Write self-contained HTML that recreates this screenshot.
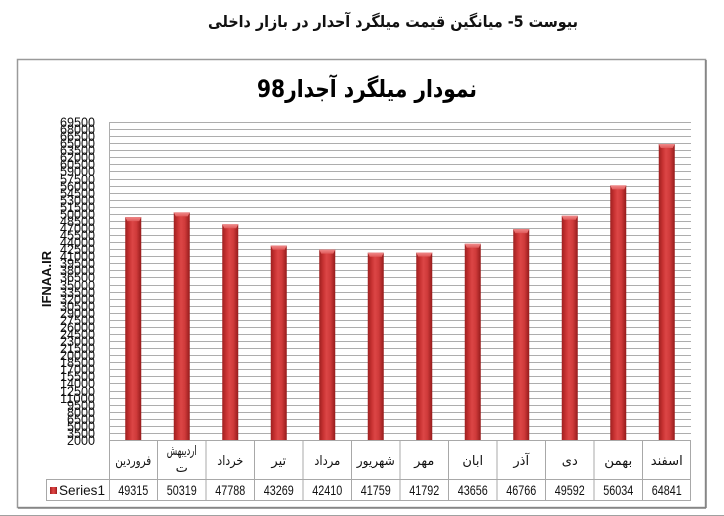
<!DOCTYPE html>
<html>
<head>
<meta charset="utf-8">
<style>
html,body{margin:0;padding:0;background:#fff;}
svg{display:block;}
</style>
</head>
<body>
<svg width="724" height="516" viewBox="0 0 724 516" xmlns="http://www.w3.org/2000/svg">
<defs>
<linearGradient id="bg" x1="0" y1="0" x2="1" y2="0">
<stop offset="0" stop-color="#9e2020"/>
<stop offset="0.25" stop-color="#c83232"/>
<stop offset="0.45" stop-color="#dc4646"/>
<stop offset="0.7" stop-color="#cf3a3a"/>
<stop offset="1" stop-color="#951b1b"/>
</linearGradient>
<linearGradient id="cap" x1="0" y1="0" x2="0" y2="1">
<stop offset="0" stop-color="#f08a8a"/>
<stop offset="1" stop-color="#e05a5a"/>
</linearGradient>
</defs>
<rect width="724" height="516" fill="#fff"/>

<!-- page title -->
<text x="393" y="27" text-anchor="middle" direction="rtl" font-family="'DejaVu Sans','Liberation Sans',sans-serif" font-weight="bold" font-size="16" fill="#111" textLength="370" lengthAdjust="spacingAndGlyphs">بیوست 5- میانگین قیمت میلگرد  آحدار در بازار داخلی</text>

<!-- frame -->
<rect x="17.5" y="59.5" width="688" height="448" fill="#fff" stroke="#9a9a9a" stroke-width="1.5"/>
<line x1="706" y1="60" x2="706" y2="508" stroke="#808080" stroke-width="1.5"/>
<line x1="18" y1="508" x2="706" y2="508" stroke="#808080" stroke-width="1.5"/>
<line x1="0" y1="515.5" x2="724" y2="515.5" stroke="#a0a0a0" stroke-width="1"/>

<!-- chart title -->
<text x="367" y="97" text-anchor="middle" direction="rtl" font-family="'DejaVu Sans','Liberation Sans',sans-serif" font-weight="bold" font-size="24" fill="#000" textLength="220" lengthAdjust="spacingAndGlyphs">نمودار میلگرد آجدار98</text>

<!-- watermark -->
<text transform="translate(51,279) rotate(-90)" text-anchor="middle" font-family="'Liberation Sans',sans-serif" font-weight="bold" font-size="13" fill="#111">IFNAA.IR</text>

<!-- gridlines -->
<g stroke="#adadad" stroke-width="1">
<line x1="109" y1="440.5" x2="691" y2="440.5"/>
<line x1="109" y1="433.5" x2="691" y2="433.5"/>
<line x1="109" y1="426.5" x2="691" y2="426.5"/>
<line x1="109" y1="419.5" x2="691" y2="419.5"/>
<line x1="109" y1="412.5" x2="691" y2="412.5"/>
<line x1="109" y1="405.5" x2="691" y2="405.5"/>
<line x1="109" y1="398.5" x2="691" y2="398.5"/>
<line x1="109" y1="391.5" x2="691" y2="391.5"/>
<line x1="109" y1="383.5" x2="691" y2="383.5"/>
<line x1="109" y1="376.5" x2="691" y2="376.5"/>
<line x1="109" y1="369.5" x2="691" y2="369.5"/>
<line x1="109" y1="362.5" x2="691" y2="362.5"/>
<line x1="109" y1="355.5" x2="691" y2="355.5"/>
<line x1="109" y1="348.5" x2="691" y2="348.5"/>
<line x1="109" y1="341.5" x2="691" y2="341.5"/>
<line x1="109" y1="334.5" x2="691" y2="334.5"/>
<line x1="109" y1="327.5" x2="691" y2="327.5"/>
<line x1="109" y1="320.5" x2="691" y2="320.5"/>
<line x1="109" y1="313.5" x2="691" y2="313.5"/>
<line x1="109" y1="306.5" x2="691" y2="306.5"/>
<line x1="109" y1="299.5" x2="691" y2="299.5"/>
<line x1="109" y1="292.5" x2="691" y2="292.5"/>
<line x1="109" y1="285.5" x2="691" y2="285.5"/>
<line x1="109" y1="277.5" x2="691" y2="277.5"/>
<line x1="109" y1="270.5" x2="691" y2="270.5"/>
<line x1="109" y1="263.5" x2="691" y2="263.5"/>
<line x1="109" y1="256.5" x2="691" y2="256.5"/>
<line x1="109" y1="249.5" x2="691" y2="249.5"/>
<line x1="109" y1="242.5" x2="691" y2="242.5"/>
<line x1="109" y1="235.5" x2="691" y2="235.5"/>
<line x1="109" y1="228.5" x2="691" y2="228.5"/>
<line x1="109" y1="221.5" x2="691" y2="221.5"/>
<line x1="109" y1="214.5" x2="691" y2="214.5"/>
<line x1="109" y1="207.5" x2="691" y2="207.5"/>
<line x1="109" y1="200.5" x2="691" y2="200.5"/>
<line x1="109" y1="193.5" x2="691" y2="193.5"/>
<line x1="109" y1="186.5" x2="691" y2="186.5"/>
<line x1="109" y1="179.5" x2="691" y2="179.5"/>
<line x1="109" y1="171.5" x2="691" y2="171.5"/>
<line x1="109" y1="164.5" x2="691" y2="164.5"/>
<line x1="109" y1="157.5" x2="691" y2="157.5"/>
<line x1="109" y1="150.5" x2="691" y2="150.5"/>
<line x1="109" y1="143.5" x2="691" y2="143.5"/>
<line x1="109" y1="136.5" x2="691" y2="136.5"/>
<line x1="109" y1="129.5" x2="691" y2="129.5"/>
<line x1="109" y1="122.5" x2="691" y2="122.5"/>
<line x1="109.5" y1="122" x2="109.5" y2="440"/>
</g>

<!-- y labels -->
<g font-family="'Liberation Sans',sans-serif" font-size="14" fill="#111" text-anchor="end">
<text x="95" y="445" textLength="28" lengthAdjust="spacingAndGlyphs">2000</text>
<text x="95" y="438" textLength="28" lengthAdjust="spacingAndGlyphs">3500</text>
<text x="95" y="431" textLength="28" lengthAdjust="spacingAndGlyphs">5000</text>
<text x="95" y="424" textLength="28" lengthAdjust="spacingAndGlyphs">6500</text>
<text x="95" y="417" textLength="28" lengthAdjust="spacingAndGlyphs">8000</text>
<text x="95" y="410" textLength="28" lengthAdjust="spacingAndGlyphs">9500</text>
<text x="95" y="403" textLength="35" lengthAdjust="spacingAndGlyphs">11000</text>
<text x="95" y="396" textLength="35" lengthAdjust="spacingAndGlyphs">12500</text>
<text x="95" y="388" textLength="35" lengthAdjust="spacingAndGlyphs">14000</text>
<text x="95" y="381" textLength="35" lengthAdjust="spacingAndGlyphs">15500</text>
<text x="95" y="374" textLength="35" lengthAdjust="spacingAndGlyphs">17000</text>
<text x="95" y="367" textLength="35" lengthAdjust="spacingAndGlyphs">18500</text>
<text x="95" y="360" textLength="35" lengthAdjust="spacingAndGlyphs">20000</text>
<text x="95" y="353" textLength="35" lengthAdjust="spacingAndGlyphs">21500</text>
<text x="95" y="346" textLength="35" lengthAdjust="spacingAndGlyphs">23000</text>
<text x="95" y="339" textLength="35" lengthAdjust="spacingAndGlyphs">24500</text>
<text x="95" y="332" textLength="35" lengthAdjust="spacingAndGlyphs">26000</text>
<text x="95" y="325" textLength="35" lengthAdjust="spacingAndGlyphs">27500</text>
<text x="95" y="318" textLength="35" lengthAdjust="spacingAndGlyphs">29000</text>
<text x="95" y="311" textLength="35" lengthAdjust="spacingAndGlyphs">30500</text>
<text x="95" y="304" textLength="35" lengthAdjust="spacingAndGlyphs">32000</text>
<text x="95" y="297" textLength="35" lengthAdjust="spacingAndGlyphs">33500</text>
<text x="95" y="290" textLength="35" lengthAdjust="spacingAndGlyphs">35000</text>
<text x="95" y="282" textLength="35" lengthAdjust="spacingAndGlyphs">36500</text>
<text x="95" y="275" textLength="35" lengthAdjust="spacingAndGlyphs">38000</text>
<text x="95" y="268" textLength="35" lengthAdjust="spacingAndGlyphs">39500</text>
<text x="95" y="261" textLength="35" lengthAdjust="spacingAndGlyphs">41000</text>
<text x="95" y="254" textLength="35" lengthAdjust="spacingAndGlyphs">42500</text>
<text x="95" y="247" textLength="35" lengthAdjust="spacingAndGlyphs">44000</text>
<text x="95" y="240" textLength="35" lengthAdjust="spacingAndGlyphs">45500</text>
<text x="95" y="233" textLength="35" lengthAdjust="spacingAndGlyphs">47000</text>
<text x="95" y="226" textLength="35" lengthAdjust="spacingAndGlyphs">48500</text>
<text x="95" y="219" textLength="35" lengthAdjust="spacingAndGlyphs">50000</text>
<text x="95" y="212" textLength="35" lengthAdjust="spacingAndGlyphs">51500</text>
<text x="95" y="205" textLength="35" lengthAdjust="spacingAndGlyphs">53000</text>
<text x="95" y="198" textLength="35" lengthAdjust="spacingAndGlyphs">54500</text>
<text x="95" y="191" textLength="35" lengthAdjust="spacingAndGlyphs">56000</text>
<text x="95" y="184" textLength="35" lengthAdjust="spacingAndGlyphs">57500</text>
<text x="95" y="176" textLength="35" lengthAdjust="spacingAndGlyphs">59000</text>
<text x="95" y="169" textLength="35" lengthAdjust="spacingAndGlyphs">60500</text>
<text x="95" y="162" textLength="35" lengthAdjust="spacingAndGlyphs">62000</text>
<text x="95" y="155" textLength="35" lengthAdjust="spacingAndGlyphs">63500</text>
<text x="95" y="148" textLength="35" lengthAdjust="spacingAndGlyphs">65000</text>
<text x="95" y="141" textLength="35" lengthAdjust="spacingAndGlyphs">66500</text>
<text x="95" y="134" textLength="35" lengthAdjust="spacingAndGlyphs">68000</text>
<text x="95" y="127" textLength="35" lengthAdjust="spacingAndGlyphs">69500</text>
</g>

<!-- bars -->
<g>
<rect x="125.25" y="217.1" width="16" height="222.9" fill="url(#bg)"/>
<path d="M125.25 217.1 H141.25 L139.25 221.1 H127.25 Z" fill="url(#cap)"/>
<rect x="173.75" y="212.4" width="16" height="227.6" fill="url(#bg)"/>
<path d="M173.75 212.4 H189.75 L187.75 216.4 H175.75 Z" fill="url(#cap)"/>
<rect x="222.25" y="224.3" width="16" height="215.7" fill="url(#bg)"/>
<path d="M222.25 224.3 H238.25 L236.25 228.3 H224.25 Z" fill="url(#cap)"/>
<rect x="270.75" y="245.6" width="16" height="194.4" fill="url(#bg)"/>
<path d="M270.75 245.6 H286.75 L284.75 249.6 H272.75 Z" fill="url(#cap)"/>
<rect x="319.25" y="249.6" width="16" height="190.4" fill="url(#bg)"/>
<path d="M319.25 249.6 H335.25 L333.25 253.6 H321.25 Z" fill="url(#cap)"/>
<rect x="367.75" y="252.7" width="16" height="187.3" fill="url(#bg)"/>
<path d="M367.75 252.7 H383.75 L381.75 256.7 H369.75 Z" fill="url(#cap)"/>
<rect x="416.25" y="252.5" width="16" height="187.5" fill="url(#bg)"/>
<path d="M416.25 252.5 H432.25 L430.25 256.5 H418.25 Z" fill="url(#cap)"/>
<rect x="464.75" y="243.8" width="16" height="196.2" fill="url(#bg)"/>
<path d="M464.75 243.8 H480.75 L478.75 247.8 H466.75 Z" fill="url(#cap)"/>
<rect x="513.25" y="229.1" width="16" height="210.9" fill="url(#bg)"/>
<path d="M513.25 229.1 H529.25 L527.25 233.1 H515.25 Z" fill="url(#cap)"/>
<rect x="561.75" y="215.8" width="16" height="224.2" fill="url(#bg)"/>
<path d="M561.75 215.8 H577.75 L575.75 219.8 H563.75 Z" fill="url(#cap)"/>
<rect x="610.25" y="185.4" width="16" height="254.6" fill="url(#bg)"/>
<path d="M610.25 185.4 H626.25 L624.25 189.4 H612.25 Z" fill="url(#cap)"/>
<rect x="658.75" y="144" width="16" height="296" fill="url(#bg)"/>
<path d="M658.75 144 H674.75 L672.75 148 H660.75 Z" fill="url(#cap)"/>
</g>

<!-- data table -->
<g stroke="#a8a8a8" stroke-width="1" fill="none">
<line x1="109" y1="440.5" x2="691" y2="440.5"/>
<line x1="46" y1="479.5" x2="691" y2="479.5"/>
<line x1="46" y1="500.5" x2="691" y2="500.5"/>
<line x1="46.5" y1="479.5" x2="46.5" y2="500.5"/>
<line x1="109.5" y1="440" x2="109.5" y2="501"/>
<line x1="157.5" y1="440" x2="157.5" y2="501"/>
<line x1="206" y1="440" x2="206" y2="501"/>
<line x1="254.5" y1="440" x2="254.5" y2="501"/>
<line x1="303" y1="440" x2="303" y2="501"/>
<line x1="351.5" y1="440" x2="351.5" y2="501"/>
<line x1="400" y1="440" x2="400" y2="501"/>
<line x1="448.5" y1="440" x2="448.5" y2="501"/>
<line x1="497" y1="440" x2="497" y2="501"/>
<line x1="545.5" y1="440" x2="545.5" y2="501"/>
<line x1="594" y1="440" x2="594" y2="501"/>
<line x1="642.5" y1="440" x2="642.5" y2="501"/>
<line x1="690.5" y1="440" x2="690.5" y2="501"/>
</g>

<!-- category labels -->
<g font-family="'DejaVu Sans','Liberation Sans',sans-serif" font-size="13" fill="#111" text-anchor="middle" direction="rtl">
<text x="133.25" y="465" textLength="36" lengthAdjust="spacingAndGlyphs">فروردین</text>
<text x="181.75" y="455" textLength="30" lengthAdjust="spacingAndGlyphs">اردیبهش</text>
<text x="181.75" y="472">ت</text>
<text x="230.25" y="465" textLength="26" lengthAdjust="spacingAndGlyphs">خرداد</text>
<text x="278.75" y="465">تیر</text>
<text x="327.25" y="465" textLength="26" lengthAdjust="spacingAndGlyphs">مرداد</text>
<text x="375.75" y="465" textLength="38" lengthAdjust="spacingAndGlyphs">شهریور</text>
<text x="424.25" y="465">مهر</text>
<text x="472.75" y="465">ابان</text>
<text x="521.25" y="465">آذر</text>
<text x="569.75" y="465">دی</text>
<text x="618.25" y="465" textLength="28" lengthAdjust="spacingAndGlyphs">بهمن</text>
<text x="666.75" y="465" textLength="32" lengthAdjust="spacingAndGlyphs">اسفند</text>
</g>

<!-- series row -->
<rect x="50" y="487" width="7" height="7" fill="url(#bg)"/>
<g font-family="'Liberation Sans',sans-serif" font-size="14" fill="#111">
<text x="59" y="495" textLength="46" lengthAdjust="spacingAndGlyphs">Series1</text>
</g>
<g font-family="'Liberation Sans',sans-serif" font-size="14" fill="#111" text-anchor="middle">
<text x="133.25" y="495" textLength="30" lengthAdjust="spacingAndGlyphs">49315</text>
<text x="181.75" y="495" textLength="30" lengthAdjust="spacingAndGlyphs">50319</text>
<text x="230.25" y="495" textLength="30" lengthAdjust="spacingAndGlyphs">47788</text>
<text x="278.75" y="495" textLength="30" lengthAdjust="spacingAndGlyphs">43269</text>
<text x="327.25" y="495" textLength="30" lengthAdjust="spacingAndGlyphs">42410</text>
<text x="375.75" y="495" textLength="30" lengthAdjust="spacingAndGlyphs">41759</text>
<text x="424.25" y="495" textLength="30" lengthAdjust="spacingAndGlyphs">41792</text>
<text x="472.75" y="495" textLength="30" lengthAdjust="spacingAndGlyphs">43656</text>
<text x="521.25" y="495" textLength="30" lengthAdjust="spacingAndGlyphs">46766</text>
<text x="569.75" y="495" textLength="30" lengthAdjust="spacingAndGlyphs">49592</text>
<text x="618.25" y="495" textLength="30" lengthAdjust="spacingAndGlyphs">56034</text>
<text x="666.75" y="495" textLength="30" lengthAdjust="spacingAndGlyphs">64841</text>
</g>
</svg>
</body>
</html>
